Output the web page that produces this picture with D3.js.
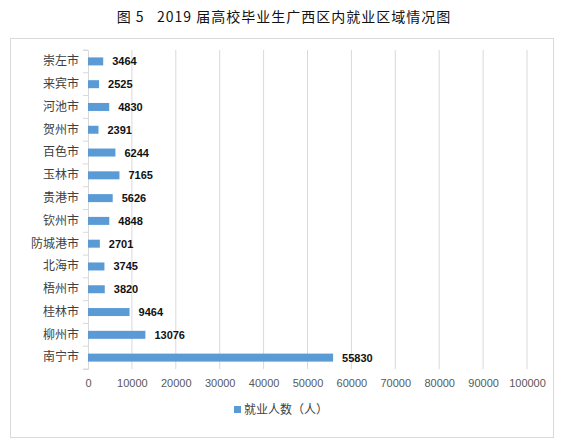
<!DOCTYPE html>
<html><head><meta charset="utf-8">
<script src="https://cdn.jsdelivr.net/npm/d3@7.9.0/dist/d3.min.js"></script>
<style>body{margin:0;background:#fff;font-family:"Noto Sans CJK SC",sans-serif}</style>
</head><body><div id="chart"></div>
<script>
const cities = ['崇左市','来宾市','河池市','贺州市','百色市','玉林市','贵港市','钦州市','防城港市','北海市','梧州市','桂林市','柳州市','南宁市'];
const values = [3464,2525,4830,2391,6244,7165,5626,4848,2701,3745,3820,9464,13076,55830];
const ticks = [0,10000,20000,30000,40000,50000,60000,70000,80000,90000,100000];
const title = '图 5   2019 届高校毕业生广西区内就业区域情况图';
const legendLabel = '就业人数（人）';
const color = '#5b9bd5';

const W = 568, H = 447;
const svg = d3.select('#chart').append('svg').attr('width', W).attr('height', H);
svg.append('text').attr('x', 284).attr('y', 22).attr('text-anchor', 'middle')
  .style('white-space', 'pre').style('font-size', '14px').style('letter-spacing', '1px')
  .attr('fill', '#111').text(title);
svg.append('rect').attr('x', 10.5).attr('y', 38.5).attr('width', 543).attr('height', 399)
  .attr('fill', 'none').attr('stroke', '#d9d9d9');

const x = d3.scaleLinear().domain([0, 100000]).range([88, 527]);
const y = d3.scaleBand().domain(cities).range([50, 369]);

svg.append('g').selectAll('line').data(ticks.slice(1)).enter().append('line')
  .attr('x1', d => x(d)).attr('x2', d => x(d)).attr('y1', 50).attr('y2', 369)
  .attr('stroke', '#d9d9d9');

const ax = svg.append('g').attr('transform', 'translate(88,0)')
  .call(d3.axisLeft(y).tickSize(5).tickPadding(4));
ax.select('.domain').attr('stroke', '#d9d9d9');
ax.selectAll('.tick line').remove();
ax.selectAll('line.sep').data(d3.range(cities.length + 1)).enter().append('line')
  .attr('x1', -5).attr('x2', 0)
  .attr('y1', i => 50 + i * y.step()).attr('y2', i => 50 + i * y.step()).attr('stroke', '#d9d9d9');
ax.selectAll('text').style('font-size', '12px').attr('fill', '#404040')
  .style('font-family', '"Noto Sans CJK SC",sans-serif');

const bx = svg.append('g').attr('transform', 'translate(0,369)')
  .call(d3.axisBottom(x).tickValues(ticks).tickSize(0).tickPadding(10).tickFormat(d3.format('d')));
bx.select('.domain').remove();
bx.selectAll('text').style('font-size', '11px').attr('fill', '#595959')
  .style('font-family', '"Liberation Sans",sans-serif');

const bh = 8;
svg.selectAll('rect.bar').data(values).enter().append('rect')
  .attr('x', x(0)).attr('y', (d, i) => y(cities[i]) + y.bandwidth() / 2 - bh / 2)
  .attr('width', d => x(d) - x(0)).attr('height', bh).attr('fill', color);
svg.selectAll('text.val').data(values).enter().append('text')
  .attr('x', d => x(d) + 9).attr('y', (d, i) => y(cities[i]) + y.bandwidth() / 2 + 4)
  .style('font-size', '11px').style('font-weight', 'bold').style('font-family', '"Liberation Sans",sans-serif')
  .attr('fill', '#111').text(d => d);

svg.append('rect').attr('x', 234).attr('y', 406).attr('width', 7).attr('height', 7).attr('fill', color);
svg.append('text').attr('x', 244).attr('y', 414).style('font-size', '12px').attr('fill', '#404040').text(legendLabel);
</script></body></html>
